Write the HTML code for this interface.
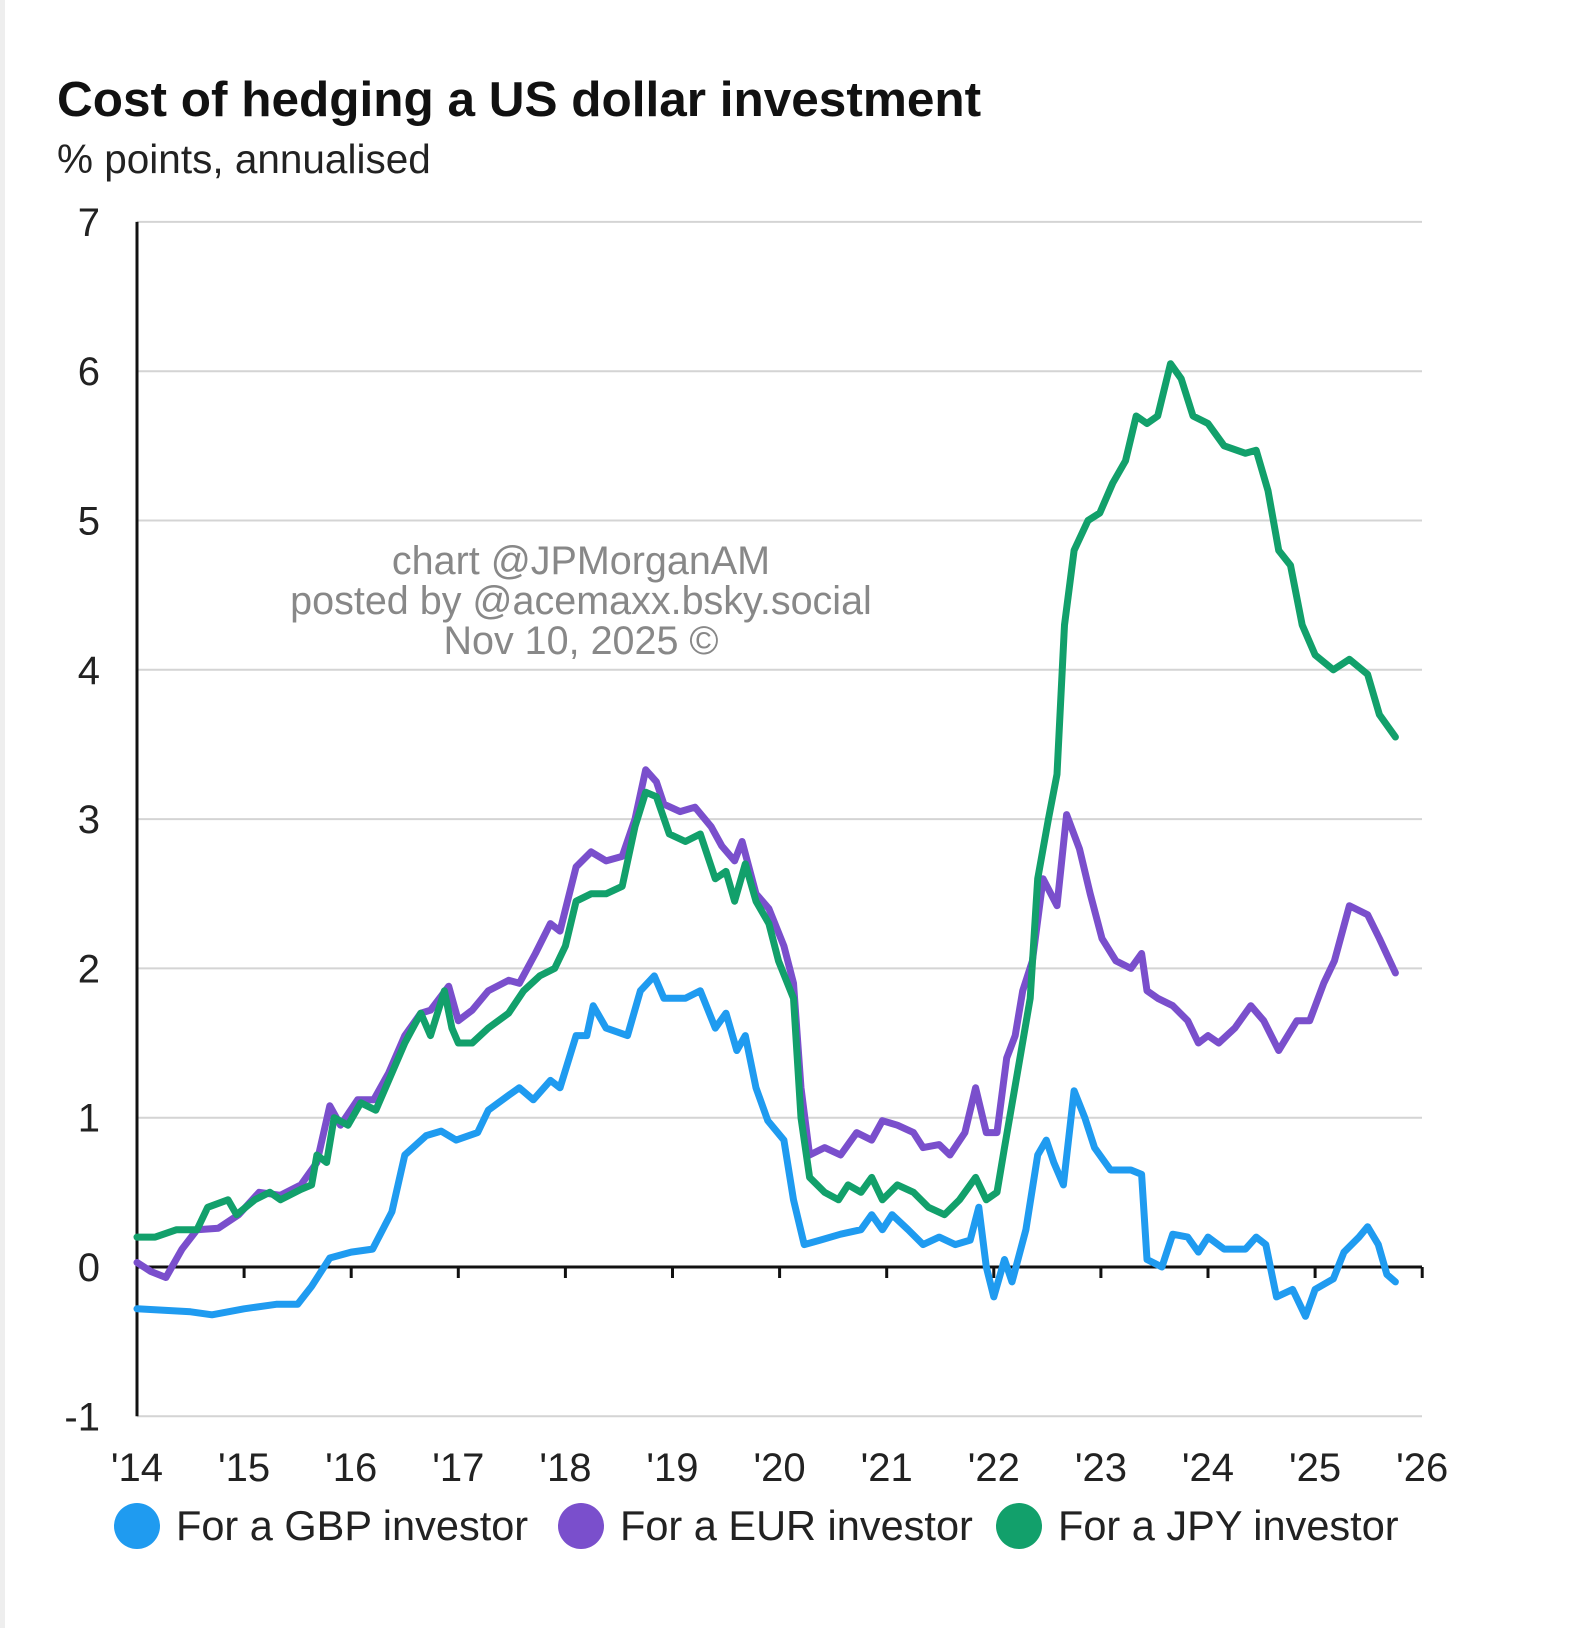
<!DOCTYPE html>
<html><head><meta charset="utf-8"><style>
html,body{margin:0;padding:0;background:#fff;}
body{width:1576px;height:1628px;overflow:hidden;position:relative;font-family:"Liberation Sans",Arial,sans-serif;}
</style></head><body>
<div style="position:absolute;left:0;top:0;width:5px;height:1628px;background:#eee"></div>
<svg id="chart" width="1576" height="1628" style="position:absolute;left:0;top:0" font-family="Liberation Sans, Arial, sans-serif">
<text x="57" y="116" font-size="49.5" font-weight="bold" fill="#111">Cost of hedging a US dollar investment</text>
<text x="57" y="173" font-size="40.5" fill="#222">% points, annualised</text>
<g id="grid"></g><g id="lines"></g>
<g font-size="39.5" fill="#888" text-anchor="middle">
<text x="581" y="574">chart @JPMorganAM</text>
<text x="581" y="614">posted by @acemaxx.bsky.social</text>
<text x="581" y="654">Nov 10, 2025 ©</text>
</g>
<g font-size="41.5" fill="#222">
<circle cx="137" cy="1526" r="23" fill="#1f9bf0"/>
<text x="176" y="1540">For a GBP investor</text>
<circle cx="581" cy="1526" r="23" fill="#7a4fcc"/>
<text x="620" y="1540">For a EUR investor</text>
<circle cx="1019" cy="1526" r="23" fill="#12a06b"/>
<text x="1058" y="1540">For a JPY investor</text>
</g>
</svg>
<script>
const yTicks=[-1,0,1,2,3,4,5,6,7];
const xTickLabels=["'14","'15","'16","'17","'18","'19","'20","'21","'22","'23","'24","'25","'26"];
const gbpT=[2014.0,2014.5,2014.7,2015.0,2015.3,2015.5,2015.63,2015.8,2016.0,2016.2,2016.38,2016.5,2016.7,2016.84,2016.98,2017.18,2017.28,2017.47,2017.57,2017.7,2017.86,2017.95,2018.1,2018.2,2018.26,2018.38,2018.58,2018.7,2018.83,2018.92,2019.12,2019.26,2019.4,2019.5,2019.6,2019.68,2019.78,2019.89,2020.04,2020.13,2020.23,2020.38,2020.57,2020.76,2020.86,2020.96,2021.05,2021.2,2021.34,2021.49,2021.64,2021.78,2021.86,2021.93,2022.0,2022.1,2022.17,2022.3,2022.41,2022.49,2022.56,2022.65,2022.75,2022.85,2022.94,2023.09,2023.28,2023.38,2023.43,2023.57,2023.67,2023.81,2023.91,2024.0,2024.15,2024.35,2024.45,2024.54,2024.64,2024.79,2024.91,2025.0,2025.17,2025.27,2025.41,2025.49,2025.59,2025.67,2025.75];
const gbpV=[-0.28,-0.3,-0.32,-0.28,-0.25,-0.25,-0.13,0.06,0.1,0.12,0.37,0.75,0.88,0.91,0.85,0.9,1.05,1.15,1.2,1.12,1.25,1.2,1.55,1.55,1.75,1.6,1.55,1.85,1.95,1.8,1.8,1.85,1.6,1.7,1.45,1.55,1.2,0.98,0.85,0.45,0.15,0.18,0.22,0.25,0.35,0.25,0.35,0.25,0.15,0.2,0.15,0.18,0.4,0.0,-0.2,0.05,-0.1,0.25,0.75,0.85,0.7,0.55,1.18,1.0,0.8,0.65,0.65,0.62,0.05,0.0,0.22,0.2,0.1,0.2,0.12,0.12,0.2,0.15,-0.2,-0.15,-0.33,-0.15,-0.08,0.1,0.2,0.27,0.15,-0.05,-0.1];
const eurT=[2014.0,2014.13,2014.27,2014.42,2014.56,2014.76,2014.95,2015.14,2015.34,2015.53,2015.68,2015.8,2015.9,2016.06,2016.21,2016.35,2016.5,2016.65,2016.74,2016.91,2017.0,2017.13,2017.28,2017.47,2017.57,2017.72,2017.86,2017.95,2018.1,2018.24,2018.38,2018.53,2018.65,2018.75,2018.85,2018.92,2019.07,2019.21,2019.36,2019.46,2019.58,2019.65,2019.78,2019.9,2020.04,2020.13,2020.2,2020.28,2020.42,2020.57,2020.72,2020.86,2020.96,2021.1,2021.25,2021.34,2021.49,2021.59,2021.73,2021.83,2021.93,2022.03,2022.12,2022.2,2022.27,2022.36,2022.46,2022.59,2022.68,2022.8,2022.9,2023.01,2023.14,2023.28,2023.38,2023.43,2023.53,2023.67,2023.81,2023.91,2024.0,2024.1,2024.25,2024.4,2024.52,2024.66,2024.83,2024.95,2025.08,2025.18,2025.32,2025.49,2025.6,2025.75];
const eurV=[0.03,-0.03,-0.07,0.12,0.25,0.26,0.35,0.5,0.48,0.55,0.7,1.08,0.95,1.12,1.12,1.3,1.55,1.7,1.72,1.88,1.65,1.72,1.85,1.92,1.9,2.1,2.3,2.25,2.68,2.78,2.72,2.75,3.0,3.33,3.25,3.1,3.05,3.08,2.95,2.82,2.72,2.85,2.5,2.4,2.15,1.9,1.2,0.75,0.8,0.75,0.9,0.85,0.98,0.95,0.9,0.8,0.82,0.75,0.9,1.2,0.9,0.9,1.4,1.55,1.85,2.05,2.6,2.42,3.03,2.8,2.5,2.2,2.05,2.0,2.1,1.85,1.8,1.75,1.65,1.5,1.55,1.5,1.6,1.75,1.65,1.45,1.65,1.65,1.9,2.05,2.42,2.36,2.2,1.97];
const jpyT=[2014.0,2014.17,2014.37,2014.56,2014.66,2014.85,2014.93,2015.1,2015.24,2015.34,2015.53,2015.63,2015.68,2015.77,2015.84,2015.97,2016.09,2016.23,2016.35,2016.5,2016.65,2016.74,2016.87,2016.94,2017.0,2017.13,2017.28,2017.47,2017.61,2017.76,2017.9,2018.0,2018.1,2018.24,2018.38,2018.53,2018.65,2018.75,2018.85,2018.97,2019.12,2019.26,2019.4,2019.5,2019.58,2019.68,2019.78,2019.9,2019.99,2020.13,2020.2,2020.28,2020.42,2020.55,2020.64,2020.76,2020.86,2020.96,2021.1,2021.25,2021.39,2021.54,2021.68,2021.83,2021.93,2022.03,2022.1,2022.22,2022.34,2022.41,2022.51,2022.59,2022.66,2022.75,2022.88,2022.99,2023.11,2023.23,2023.33,2023.43,2023.53,2023.65,2023.75,2023.86,2024.0,2024.15,2024.35,2024.45,2024.56,2024.66,2024.77,2024.88,2025.0,2025.17,2025.32,2025.49,2025.6,2025.75];
const jpyV=[0.2,0.2,0.25,0.25,0.4,0.45,0.35,0.45,0.5,0.45,0.52,0.55,0.75,0.7,1.0,0.95,1.1,1.05,1.25,1.5,1.7,1.55,1.85,1.6,1.5,1.5,1.6,1.7,1.85,1.95,2.0,2.15,2.45,2.5,2.5,2.55,2.95,3.18,3.15,2.9,2.85,2.9,2.6,2.65,2.45,2.7,2.45,2.3,2.05,1.8,1.0,0.6,0.5,0.45,0.55,0.5,0.6,0.45,0.55,0.5,0.4,0.35,0.45,0.6,0.45,0.5,0.8,1.3,1.8,2.6,3.0,3.3,4.3,4.8,5.0,5.05,5.25,5.4,5.7,5.65,5.7,6.05,5.95,5.7,5.65,5.5,5.45,5.47,5.2,4.8,4.7,4.3,4.1,4.0,4.07,3.97,3.7,3.55];

const NS='http://www.w3.org/2000/svg';
const X0=137,XW=107.1,Y0=1267,YU=149.3,XR=1422;
function xs(t){return X0+(t-2014)*XW;}
function ys(v){return Y0-v*YU;}
const grid=document.getElementById('grid'),lines=document.getElementById('lines');
function mk(tag,attrs,parent){const e=document.createElementNS(NS,tag);for(const k in attrs)e.setAttribute(k,attrs[k]);parent.appendChild(e);return e;}
yTicks.forEach(v=>{
  if(v!==0){const g=mk('line',{x1:X0,x2:XR,y1:ys(v),y2:ys(v),stroke:'#d4d4d4','stroke-width':2},grid);
  
  }
  const t=mk('text',{x:100,y:ys(v)+14,'font-size':40,'text-anchor':'end',fill:'#222'},grid);
  t.textContent=String(v);
  
  
});
const ya=mk('line',{x1:X0,x2:X0,y1:ys(7),y2:ys(-1),stroke:'#111','stroke-width':3},grid);


const za=mk('line',{x1:X0,x2:XR,y1:ys(0),y2:ys(0),stroke:'#111','stroke-width':3},grid);


xTickLabels.forEach((l,i)=>{
  const x=X0+i*XW;
  if(i>0){const tk=mk('line',{x1:x,x2:x,y1:Y0,y2:Y0+11,stroke:'#111','stroke-width':3},grid);
  
  }
  const t=mk('text',{x:x,y:1481,'font-size':40,'text-anchor':'middle',fill:'#222'},grid);
  t.textContent=l;
  
  
});
function series(T,V,color,name){
  const d=T.map((t,i)=>(i?'L':'M')+xs(t).toFixed(1)+','+ys(V[i]).toFixed(1)).join('');
  const p=mk('path',{d:d,fill:'none',stroke:color,'stroke-width':7,'stroke-linejoin':'round','stroke-linecap':'round'},lines);
  
  
}
series(gbpT,gbpV,'#1f9bf0','gbp-line');
series(eurT,eurV,'#7a4fcc','eur-line');
series(jpyT,jpyV,'#12a06b','jpy-line');
</script>
</body></html>
